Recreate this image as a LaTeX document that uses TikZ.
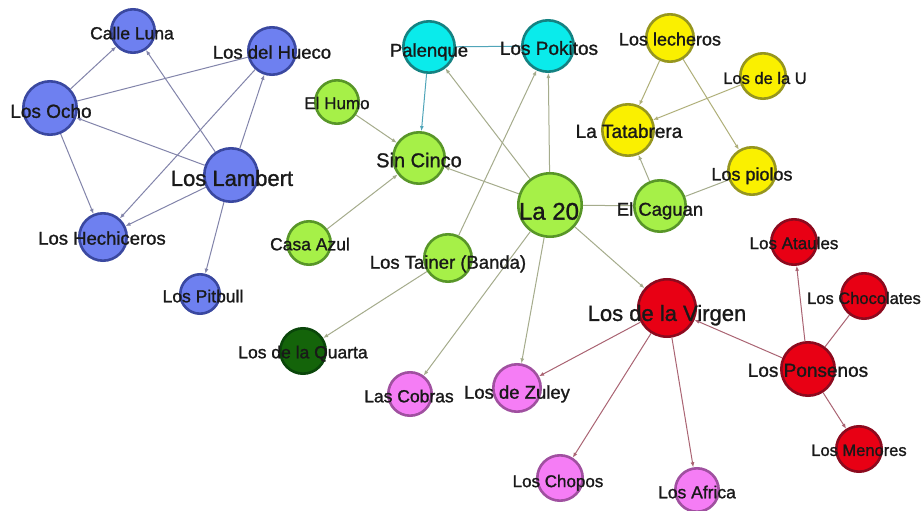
\documentclass[tikz,border=0pt]{standalone}
\usepackage{fontspec}
\setmainfont{Liberation Sans}
\newfontfamily\lblfont[FakeBold=1.2]{Liberation Sans}
\usetikzlibrary{arrows.meta}
\definecolor{blueFill}{RGB}{110,128,240}\definecolor{blueLine}{RGB}{58,72,160}
\definecolor{greenFill}{RGB}{166,240,72}\definecolor{greenLine}{RGB}{88,150,40}
\definecolor{dgreenFill}{RGB}{20,100,10}\definecolor{dgreenLine}{RGB}{10,70,10}
\definecolor{cyanFill}{RGB}{10,235,235}\definecolor{cyanLine}{RGB}{20,130,130}
\definecolor{yellowFill}{RGB}{250,240,0}\definecolor{yellowLine}{RGB}{150,150,30}
\definecolor{redFill}{RGB}{232,0,20}\definecolor{redLine}{RGB}{140,10,30}
\definecolor{pinkFill}{RGB}{245,125,245}\definecolor{pinkLine}{RGB}{160,80,160}
\definecolor{bE}{RGB}{130,132,170}\definecolor{gE}{RGB}{165,172,140}
\definecolor{tE}{RGB}{80,165,185}\definecolor{yE}{RGB}{175,175,120}
\definecolor{rE}{RGB}{170,100,115}
\tikzset{
  nd/.style 2 args={circle,inner sep=0pt,line width=2.6pt,draw=#1Line,fill=#1Fill,minimum size={(2*#2-2.6)*1pt}},
  lb/.style={font=\lblfont\fontsize{#1}{#1}\selectfont,text height={0.72*#1pt},text depth=0pt,inner sep=0pt,text={black!90}},
  ed/.style={line width=1pt},
  arr/.style={-{Latex[length=5pt,width=4pt]}}
}
\begin{document}
\begin{tikzpicture}[x=1pt,y=-1pt]
\fill[white] (0,0) rectangle (922,511);
\useasboundingbox (0,0) rectangle (922,511);
% nodes
\node[nd={blue}{23}] (calle) at (133,31) {};
\node[nd={blue}{25}] (hueco) at (272,51) {};
\node[nd={blue}{28}] (ocho) at (50,108) {};
\node[nd={blue}{28}] (lambert) at (231,175) {};
\node[nd={blue}{25}] (hech) at (103,237) {};
\node[nd={blue}{21}] (pitbull) at (200,294) {};
\node[nd={green}{23}] (humo) at (337,102) {};
\node[nd={green}{27}] (sin) at (419,158) {};
\node[nd={green}{23}] (casa) at (309,243) {};
\node[nd={green}{33}] (la20) at (550,205) {};
\node[nd={green}{27}] (caguan) at (660,206) {};
\node[nd={green}{25}] (tainer) at (448,258) {};
\node[nd={dgreen}{24}] (quarta) at (303,351) {};
\node[nd={cyan}{27}] (palenque) at (429,47) {};
\node[nd={cyan}{27}] (pokitos) at (548,46) {};
\node[nd={yellow}{25}] (lecheros) at (670,38) {};
\node[nd={yellow}{24}] (delau) at (763,76) {};
\node[nd={yellow}{27}] (tatabrera) at (628,130) {};
\node[nd={yellow}{25}] (piolos) at (752,171) {};
\node[nd={red}{30}] (virgen) at (667,308) {};
\node[nd={red}{24}] (ataules) at (794,242) {};
\node[nd={red}{24}] (choc) at (864,296) {};
\node[nd={red}{28}] (ponsenos) at (808,369) {};
\node[nd={red}{24}] (menores) at (859,449) {};
\node[nd={pink}{23}] (cobras) at (410,394) {};
\node[nd={pink}{25}] (zuley) at (517,388) {};
\node[nd={pink}{24}] (chopos) at (560,478) {};
\node[nd={pink}{23}] (africa) at (697,490) {};
% edges
\draw[ed,bE,arr] (ocho) -- (calle);
\draw[ed,bE,arr] (lambert) -- (calle);
\draw[ed,bE] (ocho) -- (hueco);
\draw[ed,bE,arr] (hueco) -- (hech);
\draw[ed,bE,arr] (lambert) -- (hueco);
\draw[ed,bE,arr] (lambert) -- (ocho);
\draw[ed,bE,arr] (ocho) -- (hech);
\draw[ed,bE,arr] (lambert) -- (hech);
\draw[ed,bE,arr] (lambert) -- (pitbull);
\draw[ed,gE,arr] (humo) -- (sin);
\draw[ed,tE,arr] (palenque) -- (sin);
\draw[ed,tE] (palenque) -- (pokitos);
\draw[ed,gE,arr] (la20) -- (palenque);
\draw[ed,gE,arr] (la20) -- (pokitos);
\draw[ed,gE,arr] (tainer) -- (pokitos);
\draw[ed,gE,arr] (la20) -- (sin);
\draw[ed,gE,arr] (casa) -- (sin);
\draw[ed,gE] (la20) -- (caguan);
\draw[ed,gE,arr] (caguan) -- (tatabrera);
\draw[ed,gE] (caguan) -- (piolos);
\draw[ed,yE,arr] (lecheros) -- (tatabrera);
\draw[ed,yE,arr] (delau) -- (tatabrera);
\draw[ed,yE,arr] (lecheros) -- (piolos);
\draw[ed,gE,arr] (la20) -- (virgen);
\draw[ed,gE,arr] (tainer) -- (quarta);
\draw[ed,gE,arr] (la20) -- (cobras);
\draw[ed,gE,arr] (la20) -- (zuley);
\draw[ed,rE,arr] (virgen) -- (zuley);
\draw[ed,rE,arr] (virgen) -- (chopos);
\draw[ed,rE,arr] (virgen) -- (africa);
\draw[ed,rE,arr] (ponsenos) -- (virgen);
\draw[ed,rE,arr] (ponsenos) -- (ataules);
\draw[ed,rE] (ponsenos) -- (choc);
\draw[ed,rE,arr] (ponsenos) -- (menores);
% labels
\node[lb=17.5] (calleT) at (132,33) {Calle Luna};
\node[lb=18.5] (huecoT) at (272,52) {Los del Hueco};
\node[lb=19] (ochoT) at (51,111) {Los Ocho};
\node[lb=22] (lambertT) at (232,178) {Los Lambert};
\node[lb=18.5] (hechT) at (102,238) {Los Hechiceros};
\node[lb=17.5] (pitbullT) at (203,296) {Los Pitbull};
\node[lb=17] (humoT) at (337,103) {El Humo};
\node[lb=20] (sinT) at (419,160) {Sin Cinco};
\node[lb=17.5] (casaT) at (310,244) {Casa Azul};
\node[lb=24] (la20T) at (549,211) {La 20};
\node[lb=18.5] (caguanT) at (660,209) {El Caguan};
\node[lb=18.5] (tainerT) at (448,262) {Los Tainer (Banda)};
\node[lb=17.5] (quartaT) at (303,352) {Los de la Quarta};
\node[lb=18.5] (palenqueT) at (429,50) {Palenque};
\node[lb=19] (pokitosT) at (549,48) {Los Pokitos};
\node[lb=18] (lecherosT) at (670,39) {Los lecheros};
\node[lb=16.5] (delauT) at (765,78) {Los de la U};
\node[lb=19] (tatabreraT) at (629,131) {La Tatabrera};
\node[lb=18] (piolosT) at (752,174) {Los piolos};
\node[lb=22] (virgenT) at (667,313) {Los de la Virgen};
\node[lb=17] (ataulesT) at (794,243) {Los Ataules};
\node[lb=16.5] (chocT) at (864,298) {Los Chocolates};
\node[lb=19] (ponsenosT) at (808,370) {Los Ponsenos};
\node[lb=16.5] (menoresT) at (859,450) {Los Menores};
\node[lb=17.5] (cobrasT) at (409,396) {Las Cobras};
\node[lb=18.5] (zuleyT) at (517,392) {Los de Zuley};
\node[lb=17] (choposT) at (558,481) {Los Chopos};
\node[lb=17.5] (africaT) at (697,492) {Los Africa};
\end{tikzpicture}
\end{document}
